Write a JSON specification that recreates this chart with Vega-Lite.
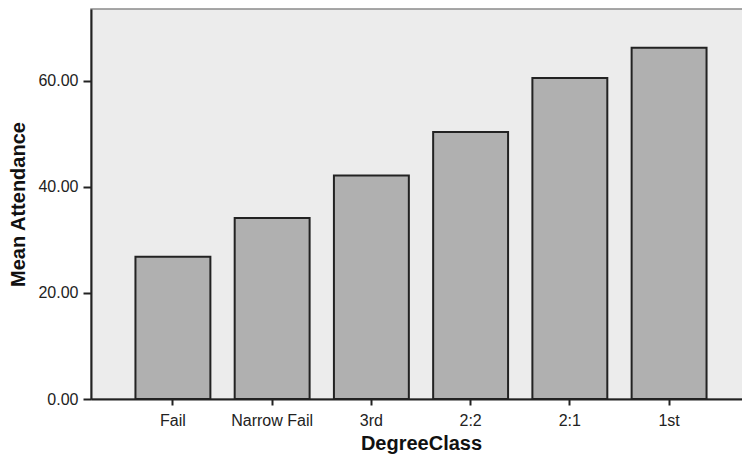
{
  "$schema": "https://vega.github.io/schema/vega-lite/v6.json",
  "autosize": {"type": "none"},
  "width": 660,
  "height": 390,
  "padding": {"left": 91, "top": 9, "right": 0, "bottom": 58},
  "background": "white",
  "config": {
    "font": "Liberation Sans",
    "view": {"fill": "#ececec", "stroke": "#8a8a8a", "strokeWidth": 1.5}
  },
  "data": {
    "values": [
      {"DegreeClass": "Fail", "MeanAttendance": 26.8},
      {"DegreeClass": "Narrow Fail", "MeanAttendance": 34.1},
      {"DegreeClass": "3rd", "MeanAttendance": 42.1},
      {"DegreeClass": "2:2", "MeanAttendance": 50.3},
      {"DegreeClass": "2:1", "MeanAttendance": 60.5},
      {"DegreeClass": "1st", "MeanAttendance": 66.2}
    ]
  },
  "mark": {"type": "bar", "fill": "#b0b0b0", "stroke": "#222222", "strokeWidth": 2},
  "encoding": {
    "x": {
      "field": "DegreeClass",
      "type": "nominal",
      "sort": null,
      "scale": {"paddingInner": 0.245, "paddingOuter": 0.448},
      "axis": {
        "title": "DegreeClass",
        "labelAngle": 0,
        "labelFontSize": 16,
        "labelColor": "#222",
        "labelPadding": 7,
        "tickSize": 6,
        "tickColor": "#222",
        "tickWidth": 2,
        "domainColor": "#222",
        "domainWidth": 2,
        "titleFontSize": 20,
        "titleFontWeight": "bold",
        "titleColor": "#111",
        "titlePadding": 5
      }
    },
    "y": {
      "field": "MeanAttendance",
      "type": "quantitative",
      "scale": {"domain": [0, 73.5], "nice": false},
      "axis": {
        "title": "Mean Attendance",
        "values": [0, 20, 40, 60],
        "format": ".2f",
        "grid": false,
        "labelFontSize": 16,
        "labelColor": "#222",
        "labelPadding": 5,
        "tickSize": 8,
        "tickColor": "#222",
        "tickWidth": 2,
        "domainColor": "#222",
        "domainWidth": 2,
        "titleFontSize": 20,
        "titleFontWeight": "bold",
        "titleColor": "#111",
        "titlePadding": 9
      }
    }
  }
}
